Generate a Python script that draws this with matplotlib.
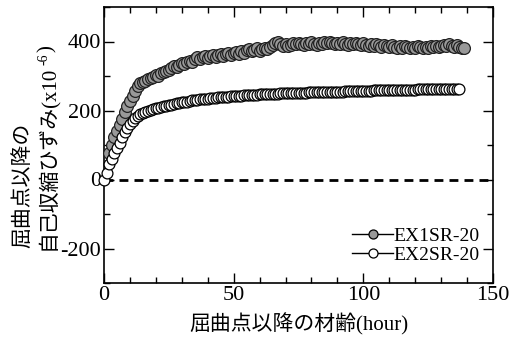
import numpy as np
import matplotlib
matplotlib.use("Agg")
import matplotlib.pyplot as plt
from matplotlib.ticker import MultipleLocator

plt.rcParams['font.family'] = ['Liberation Serif', 'Noto Sans CJK JP']
plt.rcParams['axes.unicode_minus'] = False

# ---- data ----
series_names = ["EX1SR-20", "EX2SR-20"]

ex1_start_hour = 2
ex1_values = [
    78, 100, 122, 142, 158, 176, 195, 212, 228, 243, 256, 270, 279, 283, 286, 290, 293, 298,
    302, 300, 308, 312, 315, 318, 322, 330, 326, 333, 338, 336, 342, 344, 340, 348, 354, 350,
    356, 358, 353, 358, 362, 356, 360, 364, 358, 365, 368, 362, 366, 370, 364, 372, 368, 374,
    377, 372, 376, 380, 373, 378, 382, 378, 384, 390, 395, 400, 393, 388, 392, 386, 390, 395,
    392, 397, 393, 390, 396, 392, 398, 394, 391, 396, 393, 398, 395, 400, 396, 392, 397, 393,
    398, 394, 391, 396, 392, 397, 393, 389, 395, 391, 387, 392, 388, 393, 389, 385, 390, 386,
    384, 389, 385, 381, 386, 382, 387, 383, 380, 385, 382, 386, 383, 380, 385, 381, 386, 383,
    388, 384, 387, 390, 386, 392, 388, 384, 389, 385, 381, 380,
]
ex1_hours = np.arange(len(ex1_values)) + ex1_start_hour

ex2_values = [
    0, 20, 45, 60, 76, 92, 107, 122, 137, 150, 162, 171, 178, 184, 189, 193, 196, 199, 201, 204,
    206, 208, 210, 212, 214, 216, 217, 219, 221, 222, 224, 225, 226, 227, 229, 230, 231, 232,
    233, 234, 234, 235, 236, 237, 238, 238, 239, 240, 240, 241, 242, 242, 243, 243, 244, 244,
    245, 245, 246, 246, 247, 247, 247, 248, 248, 249, 249, 249, 250, 250, 250, 251, 251, 251,
    251, 252, 252, 252, 252, 253, 253, 253, 253, 254, 254, 254, 254, 254, 255, 255, 255, 255,
    255, 256, 256, 256, 256, 256, 257, 257, 257, 257, 257, 257, 258, 258, 258, 258, 258, 259,
    259, 259, 259, 259, 259, 260, 260, 260, 260, 260, 260, 261, 261, 261, 261, 261, 261, 261,
    261, 262, 262, 262, 262, 262, 262, 262, 262, 263,
]
ex2_hours = np.arange(len(ex2_values))

xlim = (0, 150)
ylim = (-300, 500)
xticks = [0, 50, 100, 150]
yticks = [-200, 0, 200, 400]

xlabel = "屈曲点以降の材齢(hour)"
ylabel_line1 = "屈曲点以降の"
ylabel_line2_main = "自己収縮ひずみ(x10"
ylabel_line2_sup = "-6"
ylabel_line2_end = ")"

# ---- figure ----
W, H = 514, 340
fig = plt.figure(figsize=(W / 100, H / 100), dpi=100)
ax = fig.add_axes([104 / W, 1 - 283 / H, (493 - 104) / W, (283 - 7) / H])

ax.axhline(0, color='black', lw=2, ls=(0, (3.2, 2.2)), zorder=1)

ax.plot(ex1_hours, ex1_values, 'o', ms=8.5, mfc='#999999', mec='#222222', mew=0.9,
        zorder=3, clip_on=False)
ax.plot(ex2_hours, ex2_values, 'o', ms=7.8, mfc='white', mec='black', mew=0.9,
        zorder=4, clip_on=False)

# legend handles
h1, = ax.plot([], [], '-o', color='black', lw=1, ms=6.5, mfc='#999999', mec='black', mew=0.9)
h2, = ax.plot([], [], '-o', color='black', lw=1, ms=6.5, mfc='white', mec='black', mew=0.9)
leg = ax.legend([h1, h2], series_names, loc='lower right', bbox_to_anchor=(1.0, 0.02),
                frameon=False, fontsize=14, handlelength=2.1, handletextpad=0.0,
                labelspacing=0.05, borderaxespad=0.3)

ax.set_xlim(*xlim)
ax.set_ylim(*ylim)
ax.set_xticks(xticks)
ax.set_yticks(yticks)
ax.xaxis.set_minor_locator(MultipleLocator(10))
ax.yaxis.set_minor_locator(MultipleLocator(100))
ax.tick_params(which='both', direction='in', top=True, right=True, labelsize=16, pad=2)
ax.tick_params(which='major', length=7, width=1)
ax.tick_params(which='minor', length=4, width=1)
for s in ax.spines.values():
    s.set_linewidth(1.2)

ax.set_xlabel(xlabel, fontsize=15, labelpad=6)

# y label built from rotated pieces (so superscript works with CJK fonts)
lab_fs = 15
fig.text(23 / W, 1 - 248 / H, ylabel_line1, rotation=90, ha='center', va='bottom',
         fontsize=lab_fs)
t_main = fig.text(47 / W, 1 - 250 / H, ylabel_line2_main, rotation=90, ha='center',
                  va='bottom', fontsize=lab_fs)
fig.canvas.draw()
r = fig.canvas.get_renderer()
bb = t_main.get_window_extent(r)
t_sup = fig.text(bb.x0 + 1, bb.y1 + 1, ylabel_line2_sup, rotation=90, ha='left',
                 va='bottom', fontsize=10, transform=None)
fig.canvas.draw()
bb2 = t_sup.get_window_extent(r)
fig.text(47 / W, (bb2.y1 + 1) / H, ylabel_line2_end, rotation=90, ha='center',
         va='bottom', fontsize=lab_fs)

fig.savefig("out.png", dpi=100)
